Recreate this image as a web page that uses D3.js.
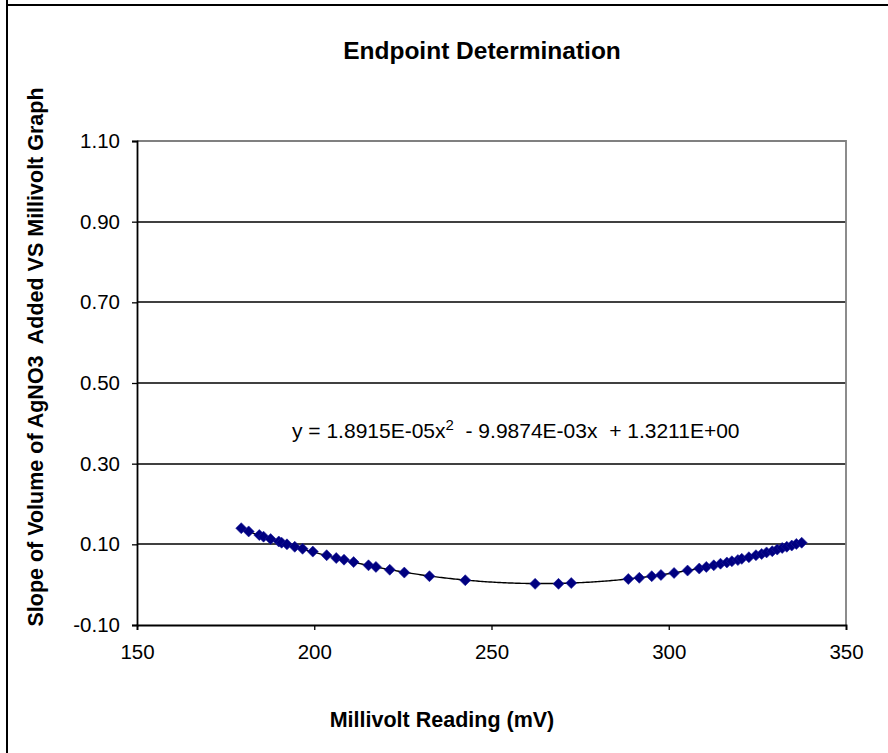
<!DOCTYPE html>
<html>
<head>
<meta charset="utf-8">
<script src="https://cdn.jsdelivr.net/npm/d3@7"></script>
<style>
    body { margin: 0; background: #fff; }
    svg text { font-family: Arial, "Liberation Sans", sans-serif; }
</style>
</head>
<body>
<div id="chart"></div>
<script>
// readings (mV) and slope values
const millivolts = [179.4, 181.5, 184.5, 185.7, 187.7, 190.0, 190.8, 192.3, 194.5, 196.7,
    199.6, 203.5, 206.2, 208.4, 211.1, 215.3, 217.4, 221.3, 225.4, 232.5, 242.6,
    262.3, 268.9, 272.5, 288.6, 291.7, 295.2, 297.8, 301.5, 305.3, 308.6, 310.6,
    312.7, 314.6, 316.4, 317.8, 319.5, 320.6, 322.6, 324.6, 326.2, 327.6, 329.2,
    330.6, 332.0, 333.3, 334.7, 336.0, 337.5];
const slopes = [0.140, 0.132, 0.123, 0.119, 0.113, 0.107, 0.104, 0.100, 0.094, 0.089,
    0.082, 0.073, 0.066, 0.062, 0.056, 0.048, 0.044, 0.037, 0.030, 0.021, 0.011,
    0.002, 0.002, 0.004, 0.014, 0.017, 0.021, 0.024, 0.029, 0.035, 0.040, 0.044,
    0.048, 0.052, 0.055, 0.058, 0.061, 0.064, 0.068, 0.073, 0.076, 0.080, 0.083,
    0.087, 0.091, 0.094, 0.097, 0.101, 0.104];

// polynomial trendline coefficients as printed on the chart
const trendCoef = [1.8915E-05, -9.9874E-03, 1.3211E+00];

const xTicks = [150, 200, 250, 300, 350];
const yTicks = [-0.10, 0.10, 0.30, 0.50, 0.70, 0.90, 1.10];

const width = 888, height = 753;
const plot = {left: 137, right: 846, top: 141, bottom: 625};

let svg = d3.select('#chart').append('svg')
    .attr('width', width)
    .attr('height', height);

svg.append('rect').attr('width', width).attr('height', height).attr('fill', '#fff');

// outer frame (left + top only, the rest is cropped)
svg.append('line').attr('x1', 7).attr('x2', 7).attr('y1', 0).attr('y2', height)
    .attr('stroke', '#000').attr('stroke-width', 2);
svg.append('line').attr('x1', 6).attr('x2', width).attr('y1', 5).attr('y2', 5)
    .attr('stroke', '#000').attr('stroke-width', 2);

let x = d3.scaleLinear().domain([150, 350]).range([plot.left, plot.right]);
let y = d3.scaleLinear().domain([-0.10, 1.10]).range([plot.bottom, plot.top]);

// gridlines
svg.append('g')
    .selectAll('line')
    .data(yTicks.filter(d => d > -0.1 && d < 1.1))
    .join('line')
    .attr('x1', plot.left).attr('x2', plot.right)
    .attr('y1', d => Math.round(y(d))).attr('y2', d => Math.round(y(d)))
    .attr('stroke', '#000').attr('stroke-width', 1.3);

// plot area border top/right in grey
svg.append('path')
    .attr('d', `M${plot.left},${plot.top}H${plot.right}V${plot.bottom}`)
    .attr('fill', 'none').attr('stroke', '#808080').attr('stroke-width', 1.8);

// axes
let fmt = d3.format('.2f');
let xAxis = d3.axisBottom(x).tickValues(xTicks).tickSizeOuter(0).tickSize(5).tickPadding(12);
let yAxis = d3.axisLeft(y).tickValues(yTicks).tickSizeOuter(0).tickSize(5).tickPadding(12)
    .tickFormat(d => fmt(d).replace('\u2212', '-'));

let gx = svg.append('g').attr('transform', `translate(0,${plot.bottom})`).call(xAxis);
let gy = svg.append('g').attr('transform', `translate(${plot.left},0)`).call(yAxis);

[gx, gy].forEach(g => {
    g.select('.domain').attr('stroke', '#000').attr('stroke-width', 1.8);
    g.selectAll('.tick line').attr('stroke', '#000').attr('stroke-width', 1.3);
    g.selectAll('.tick text')
        .attr('fill', '#000')
        .style('font-size', '20.5px')
        .style('font-family', 'Arial, "Liberation Sans", sans-serif');
});
gx.selectAll('.tick text').attr('dy', '0.85em');

// trendline
let tx = d3.range(millivolts[0], millivolts[millivolts.length - 1] + 0.01, 0.5);
let trend = v => trendCoef[0] * v * v + trendCoef[1] * v + trendCoef[2];
svg.append('path')
    .datum(tx)
    .attr('d', d3.line().x(d => x(d)).y(d => y(trend(d))))
    .attr('fill', 'none').attr('stroke', '#000').attr('stroke-width', 1.4);

// data markers
let data = millivolts.map((m, i) => ({mv: m, slope: slopes[i]}));
svg.append('g')
    .selectAll('path')
    .data(data)
    .join('path')
    .attr('transform', d => `translate(${x(d.mv)},${y(d.slope)})`)
    .attr('d', 'M0,-5.5L5.5,0L0,5.5L-5.5,0Z')
    .attr('fill', '#000080')
    .attr('stroke', '#1a1a9a')
    .attr('stroke-width', 0.6);

// titles
svg.append('text')
    .attr('x', 482).attr('y', 59)
    .attr('text-anchor', 'middle')
    .style('font-size', '24.5px').style('font-weight', 'bold')
    .text('Endpoint Determination');

svg.append('text')
    .attr('x', 442).attr('y', 727)
    .attr('text-anchor', 'middle')
    .style('font-size', '21.5px').style('font-weight', 'bold')
    .text('Millivolt Reading (mV)');

svg.append('text')
    .attr('transform', 'translate(43,357) rotate(-90)')
    .attr('text-anchor', 'middle')
    .attr('xml:space', 'preserve')
    .style('font-size', '21.5px').style('font-weight', 'bold')
    .style('white-space', 'pre')
    .text('Slope of Volume of AgNO3  Added VS Millivolt Graph');

// trendline equation
let eq = svg.append('text')
    .attr('x', 292).attr('y', 438)
    .attr('xml:space', 'preserve')
    .style('white-space', 'pre')
    .style('font-size', '21px');
eq.append('tspan').text('y = 1.8915E-05x');
eq.append('tspan').attr('dy', -8).style('font-size', '15px').text('2');
eq.append('tspan').attr('dy', 8).text('  - 9.9874E-03x  + 1.3211E+00');
</script>
</body>
</html>
